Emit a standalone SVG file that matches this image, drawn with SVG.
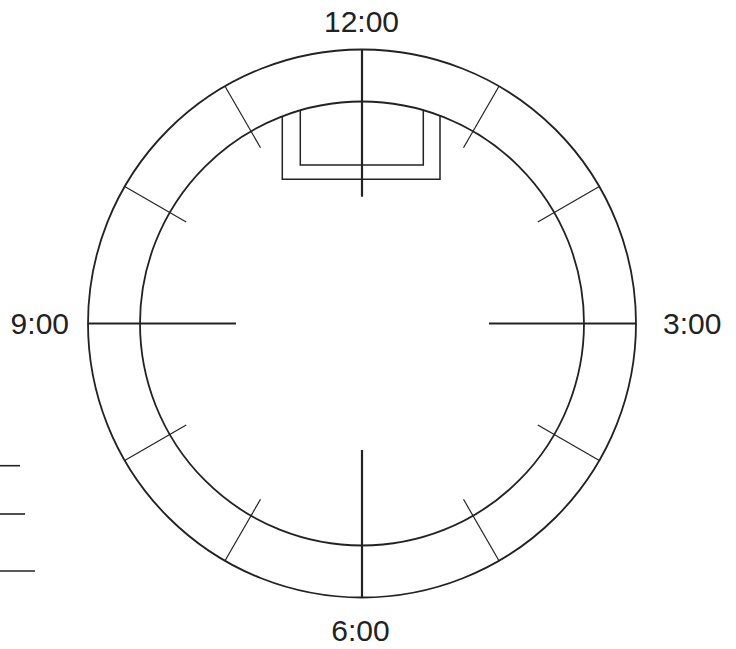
<svg xmlns="http://www.w3.org/2000/svg" width="736" height="649" viewBox="0 0 736 649">
<style>
.ring{fill:none;stroke:#222;stroke-width:1.8}
.major{stroke:#222;stroke-width:2.2}
.minor{stroke:#222;stroke-width:1.2}
.br{fill:none;stroke:#222;stroke-width:1.5}
.lbl{font-family:"Liberation Sans",Arial,sans-serif;font-size:30px;fill:#222}
.mark{stroke:#222;stroke-width:1.6}
</style>
<rect width="736" height="649" fill="#fff"/>
<g id="face">
<circle class="ring" cx="362" cy="323.5" r="274"/>
<circle class="ring" cx="362" cy="323.5" r="222"/>
</g>
<g id="brackets">
<polyline class="br" points="282.3,116.3 282.3,179.3 440,179.3 440,115.7"/>
<polyline class="br" points="300.3,110.2 300.3,165 423.3,165 423.3,110.1"/>
</g>
<g id="ticks">
<line class="major" x1="362" y1="49.5" x2="362" y2="196.7"/>
<line class="major" x1="362" y1="450" x2="362" y2="597.5"/>
<line class="major" x1="88" y1="323.5" x2="236" y2="323.5"/>
<line class="major" x1="489" y1="323.5" x2="636" y2="323.5"/>
<line class="minor" x1="499" y1="86.2" x2="463.5" y2="147.7"/>
<line class="minor" x1="599.3" y1="186.5" x2="537.8" y2="222"/>
<line class="minor" x1="599.3" y1="460.5" x2="537.8" y2="425"/>
<line class="minor" x1="499" y1="560.8" x2="463.5" y2="499.3"/>
<line class="minor" x1="225" y1="560.8" x2="260.5" y2="499.3"/>
<line class="minor" x1="124.7" y1="460.5" x2="186.2" y2="425"/>
<line class="minor" x1="124.7" y1="186.5" x2="186.2" y2="222"/>
<line class="minor" x1="225" y1="86.2" x2="260.5" y2="147.7"/>
</g>
<g id="labels">
<text class="lbl" x="361.5" y="32" text-anchor="middle">12:00</text>
<text class="lbl" x="360.5" y="641" text-anchor="middle">6:00</text>
<text class="lbl" x="69" y="334" text-anchor="end">9:00</text>
<text class="lbl" x="663" y="334">3:00</text>
</g>
<g id="marks">
<line class="mark" x1="0" y1="465.7" x2="20" y2="465.7"/>
<line class="mark" x1="0" y1="514" x2="25" y2="514"/>
<line class="mark" x1="0" y1="571" x2="35" y2="571"/>
</g>
</svg>
